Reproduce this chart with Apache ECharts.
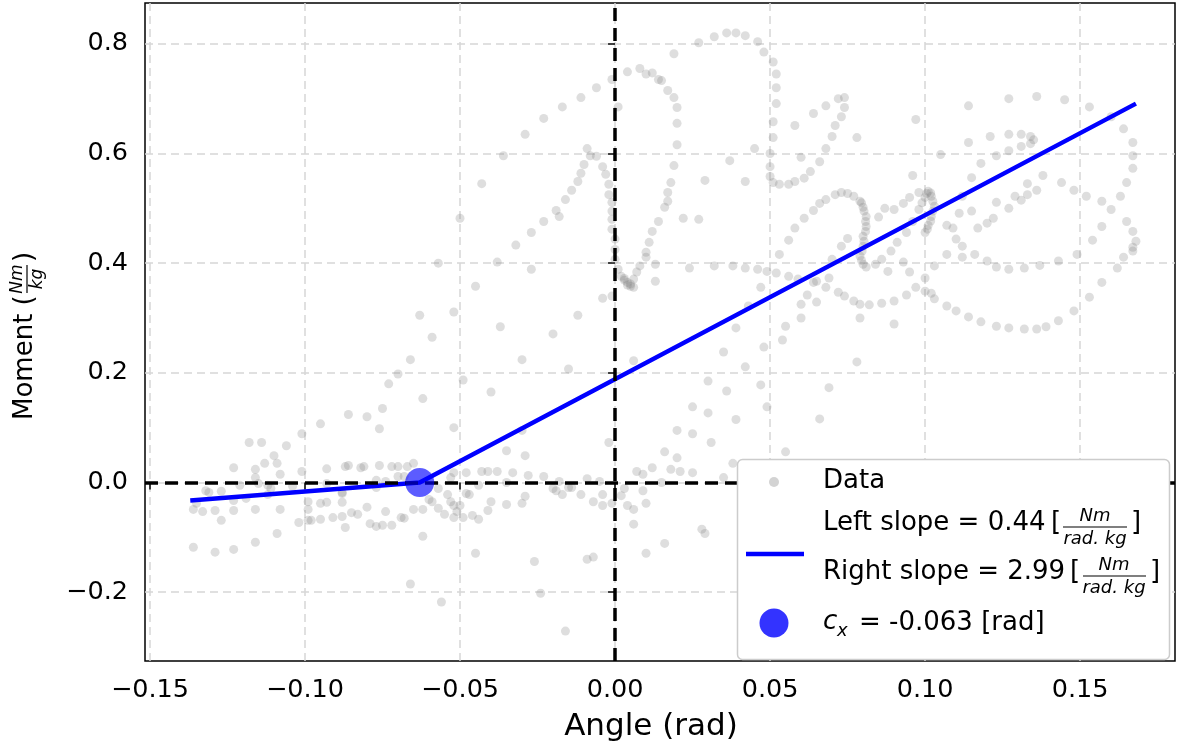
<!DOCTYPE html>
<html>
<head>
<meta charset="utf-8">
<script src="https://cdn.jsdelivr.net/npm/echarts@6/dist/echarts.min.js"></script>
<style>
  html, body { margin: 0; padding: 0; background: #fff; }
  #chart { width: 1188px; height: 747px; }
</style>
</head>
<body>
<div id="chart"></div>
<script>
// 数据点 [angle (rad), moment (Nm/kg)]
const topLoop = [
  [0.004,0.749],[0.008,0.755],[0.010,0.745],[0.012,0.747],[0.014,0.735],
  [-0.001,0.735],[-0.006,0.720],[-0.011,0.702],[-0.017,0.685],[-0.023,0.664],[-0.029,0.635],[-0.036,0.596],[-0.043,0.545],[-0.050,0.482],
  [0.001,0.685],
  [0.015,0.733],[0.017,0.715],[0.019,0.702],[0.020,0.684],[0.020,0.655],[0.020,0.616],[0.019,0.578],[0.018,0.547],[0.017,0.529],[0.017,0.513],[0.016,0.502],[0.014,0.476],[0.012,0.458],[0.011,0.438],
  [0.010,0.420],[0.010,0.411],[0.008,0.395],[0.007,0.384],[0.006,0.371],[0.006,0.356],[0.004,0.365],[0.003,0.369],[0.001,0.389],[0.000,0.407],[0.000,0.425],[0.002,0.376],[0.005,0.358],[0.013,0.398],[0.013,0.367],
  [0.004,0.360],[0.005,0.362],[0.003,0.372]
]
const innerCurve = [
  [-0.009,0.609],[-0.008,0.596],[-0.006,0.595],[-0.010,0.580],[-0.011,0.564],[-0.012,0.549],[-0.014,0.533],[-0.016,0.516],[-0.019,0.496],[-0.018,0.485],[-0.023,0.476],[-0.027,0.456],[-0.032,0.433],
  [-0.004,0.576],[-0.003,0.562],[-0.002,0.544],[-0.002,0.525],[-0.001,0.511],[-0.001,0.495],[-0.001,0.480],[-0.001,0.462],[0.000,0.444]
]
const upperArc = [
  [0.019,0.782],[0.027,0.802],[0.032,0.813],[0.036,0.820],[0.039,0.820],[0.042,0.815],[0.046,0.804],[0.048,0.785],
  [0.051,0.767],[0.052,0.745],[0.052,0.720],[0.052,0.691],[0.051,0.658],[0.051,0.629],[0.050,0.600],[0.050,0.576],[0.050,0.558],[0.051,0.547],
  [0.053,0.544],[0.056,0.544],[0.058,0.549],[0.061,0.555],[0.063,0.567],[0.066,0.585],[0.068,0.609],[0.070,0.631],[0.071,0.651],[0.073,0.667],[0.074,0.684],[0.074,0.702],[0.072,0.700],[0.068,0.687],[0.064,0.673],[0.058,0.651],[0.060,0.593],
  [0.078,0.629],[0.097,0.662],[0.045,0.609],[0.037,0.587],[0.029,0.551],[0.042,0.549],[0.022,0.482],[0.027,0.480]
]
const sCurve = [
  [0.066,0.509],[0.068,0.516],[0.071,0.525],[0.073,0.529],[0.075,0.527],[0.077,0.522],[0.079,0.513],[0.080,0.502],[0.081,0.485],[0.081,0.467],[0.080,0.449],[0.080,0.431],[0.079,0.413],[0.080,0.398],[0.081,0.393],[0.084,0.398],[0.086,0.407],[0.089,0.422],[0.091,0.438],[0.094,0.456],[0.096,0.476],[0.098,0.498],[0.100,0.520],[0.101,0.531],[0.102,0.522],[0.103,0.504],[0.102,0.485],[0.101,0.469],[0.100,0.456],
  [0.0795,0.510],[0.0803,0.495],[0.0808,0.476],[0.0808,0.458],[0.0803,0.440],[0.0797,0.422],[0.0795,0.405],
  [0.099,0.510],[0.1005,0.527],[0.1018,0.528],[0.1025,0.513],[0.1025,0.495],[0.1018,0.477],[0.1007,0.462],
  [0.064,0.496],[0.061,0.482],[0.058,0.464],[0.056,0.442],[0.075,0.445],[0.073,0.431],[0.085,0.484],[0.087,0.500],[0.090,0.498],[0.093,0.509],[0.095,0.520],[0.098,0.529],[0.096,0.560]
]
const rightLoops = [
  [0.114,0.687],[0.127,0.700],[0.136,0.704],[0.145,0.698],[0.153,0.685],[0.160,0.667],[0.164,0.645],[0.167,0.620],[0.167,0.596],[0.167,0.573],[0.165,0.547],[0.163,0.522],[0.160,0.498],[0.157,0.467],[0.154,0.442],
  [0.165,0.476],[0.167,0.458],[0.168,0.440],[0.167,0.429],
  [0.114,0.620],[0.121,0.631],[0.127,0.635],[0.131,0.635],[0.134,0.631],[0.135,0.625],[0.134,0.618],[0.131,0.613],[0.127,0.605],[0.123,0.596],[0.118,0.582],[0.115,0.556],[0.112,0.522],
  [0.105,0.598],[0.138,0.560],[0.144,0.547],[0.148,0.533],[0.152,0.522],[0.157,0.513],
  [0.133,0.545],[0.136,0.533],[0.133,0.525],[0.131,0.515],[0.129,0.522],[0.127,0.500],[0.123,0.511],[0.122,0.482],[0.120,0.473],[0.117,0.464],[0.115,0.495],[0.111,0.491],[0.109,0.464],[0.107,0.469],[0.110,0.444],[0.112,0.431]
]
const midBand = [
  [0.024,0.391],[0.032,0.395],[0.038,0.395],[0.042,0.391],[0.046,0.389],[0.049,0.385],[0.052,0.382],[0.056,0.376],[0.059,0.371],[0.064,0.365],[0.068,0.356],[0.072,0.347],[0.074,0.340],[0.077,0.331],[0.079,0.325],[0.082,0.324],[0.086,0.327],[0.090,0.331],[0.094,0.342],[0.097,0.356],
  [0.053,0.416],[0.070,0.407],[0.069,0.373],[0.065,0.367],[0.047,0.356],[0.062,0.342],[0.065,0.329],[0.060,0.325],
  [0.093,0.402],[0.095,0.384],[0.088,0.385],
  [0.107,0.416],[0.112,0.411],[0.116,0.416],[0.120,0.404],[0.123,0.393],[0.127,0.389],[0.132,0.391],[0.137,0.396],[0.143,0.404],[0.149,0.416],
  [0.103,0.395],[0.100,0.373],[0.100,0.349],[0.102,0.345],[0.103,0.335],[0.107,0.322],[0.110,0.313],[0.114,0.302],[0.118,0.293],[0.123,0.285],[0.127,0.282],[0.132,0.280],[0.136,0.280],[0.139,0.284],[0.143,0.295],[0.148,0.313],[0.153,0.338],[0.157,0.365],[0.162,0.391],[0.164,0.411],[0.167,0.422]
]
const rightScatter = [
  [0.060,0.300],[0.055,0.285],[0.054,0.260],[0.048,0.247],[0.039,0.282],[0.043,0.322],[0.035,0.238],[0.042,0.211],[0.030,0.185],[0.036,0.167],[0.047,0.178],[0.049,0.138],[0.025,0.138],[0.030,0.127],[0.039,0.115],[0.020,0.095],[0.025,0.089],[0.031,0.073],[0.016,0.056],[0.020,0.045],[0.018,0.024],[0.021,0.020],[0.025,0.018],[0.035,0.009],[0.038,0.035],[0.055,0.056],
  [0.079,0.300],[0.090,0.289],[0.078,0.220],[0.069,0.173],[0.066,0.116]
]
const leftCloud = [
  [-0.070,0.198],[-0.073,0.180],[-0.075,0.135],[-0.076,0.098],[-0.080,0.120],[-0.086,0.124],[-0.095,0.107],[-0.101,0.089],[-0.106,0.067],[-0.110,0.049],[-0.114,0.073],[-0.118,0.073],[-0.113,0.035],[-0.109,0.035],[-0.116,0.024],[-0.123,0.027],[-0.108,0.015],[-0.116,0.009],[-0.121,-0.005],[-0.101,0.020],[-0.093,0.025],[-0.087,0.029],[-0.086,0.031],[-0.082,0.027],[-0.081,0.029],[-0.076,0.031],[-0.072,0.029],[-0.070,0.029],[-0.077,0.004],[-0.074,0.002],[-0.070,0.011],[-0.132,-0.015],[-0.127,-0.016],[-0.104,-0.007],[-0.088,-0.020],[-0.111,-0.011],[-0.115,-0.002]
]
const centerCloud = [
  [-0.057,0.400],[-0.038,0.402],[-0.027,0.389],[-0.045,0.358],[-0.063,0.305],[-0.052,0.311],[-0.037,0.284],[-0.059,0.265],[-0.066,0.224],[-0.030,0.224],[-0.020,0.271],[-0.012,0.305],[-0.004,0.336],[-0.001,0.340],[0.006,0.222],[-0.049,0.187],[-0.062,0.153],[-0.040,0.165],[-0.015,0.207],[-0.052,0.100],[-0.035,0.058],[-0.029,0.049],[-0.030,0.095],[-0.002,0.073],
  [-0.048,0.018],[-0.043,0.020],[-0.041,0.020],[-0.038,0.020],[-0.033,0.018],[-0.028,0.013],[-0.023,0.011],[-0.018,0.002],[-0.009,0.007],[-0.005,0.002],[0.007,0.020],[0.009,0.015],[0.012,0.027],[-0.044,-0.005],[-0.048,-0.020],[-0.054,-0.022],[-0.065,0.035],[-0.067,0.029],[-0.068,0.011],[-0.057,-0.011],[-0.053,0.009],[-0.052,0.018],[-0.019,-0.015],[-0.014,-0.009],[-0.004,-0.022],[0.009,-0.015]
]
const lowerBand = [
  [-0.131,-0.018],[-0.135,-0.038],[-0.136,-0.049],[-0.133,-0.053],[-0.129,-0.051],[-0.127,-0.069],[-0.123,-0.051],[-0.123,-0.033],[-0.119,-0.029],[-0.116,-0.049],[-0.112,-0.022],[-0.108,-0.049],[-0.109,-0.093],[-0.116,-0.109],[-0.123,-0.122],[-0.129,-0.127],[-0.136,-0.118],
  [-0.102,-0.073],[-0.099,-0.069],[-0.098,-0.069],[-0.095,-0.067],[-0.095,-0.038],[-0.093,-0.036],[-0.099,-0.035],[-0.099,-0.049],[-0.091,-0.064],[-0.088,-0.062],[-0.088,-0.036],[-0.087,-0.082],[-0.085,-0.055],[-0.083,-0.058],[-0.080,-0.045],[-0.079,-0.075],[-0.077,-0.080],[-0.075,-0.078],[-0.074,-0.053],[-0.072,-0.078],[-0.077,-0.009],[-0.088,-0.018],[-0.112,-0.005],[-0.069,-0.064],[-0.093,-0.002],
  [-0.068,-0.065],[-0.065,-0.049],[-0.062,-0.049],[-0.062,-0.098],[-0.066,-0.185],[-0.056,-0.218],[-0.060,-0.031],[-0.059,-0.035],[-0.057,-0.047],[-0.055,-0.058],[-0.053,-0.035],[-0.052,-0.042],[-0.052,-0.064],[-0.051,-0.053],[-0.050,-0.042],[-0.049,-0.064],[-0.047,-0.022],[-0.046,-0.060],[-0.044,-0.067],[-0.041,-0.051],[-0.040,-0.035],[-0.035,-0.040],[-0.030,-0.038],[-0.029,-0.025],[-0.020,-0.011],[-0.017,-0.022],[-0.015,-0.009],[-0.011,-0.022],[-0.007,-0.035],[-0.004,-0.042],[-0.001,-0.038],[0.002,-0.024],[0.003,-0.011],[0.004,-0.042],[0.006,-0.049],[0.010,-0.038],[0.015,0.000],[0.006,-0.076],[0.016,-0.111],[0.010,-0.129],[0.028,-0.085],[0.029,-0.093],[-0.045,-0.129],[-0.026,-0.144],[-0.009,-0.140],[-0.007,-0.136],[-0.024,-0.202],[-0.016,-0.271],[-0.035,0.000]
]

// 分段拟合
const fitAngle = [-0.137, -0.063, 0.168]
const fitMoment = [-0.0326, 0, 0.691]
const cxAngle = -0.063
const cxMoment = 0

const xTicks = [-0.15, -0.10, -0.05, 0, 0.05, 0.10, 0.15]
const yTicks = [-0.2, 0, 0.2, 0.4, 0.6, 0.8]

const allData = [].concat(topLoop, innerCurve, upperArc, sCurve, rightLoops, midBand, rightScatter, leftCloud, centerCloud, lowerBand)
const fitLine = fitAngle.map((a, i) => [a, fitMoment[i]])

const FONT = 'DejaVu Sans'
const fmt = (v, d) => (v < -1e-9 ? '\u2212' + Math.abs(v).toFixed(d) : Math.abs(v).toFixed(d))

const myChart = echarts.init(document.getElementById('chart'))

const TXT = '26px "DejaVu Sans"'
const SMALL = 'italic 18px "DejaVu Sans"'
const legendGraphic = [
  // 图例框
  { type: 'rect', shape: { x: 737.5, y: 459.5, width: 432, height: 200, r: 5 },
    style: { fill: '#ffffff', stroke: '#cccccc', lineWidth: 1.5 }, z: 100 },
  { type: 'circle', shape: { cx: 774, cy: 482, r: 5 }, style: { fill: 'rgba(128,128,128,0.35)' }, z: 101 },
  { type: 'text', x: 823, y: 481, style: { text: 'Data', font: TXT, fill: '#000', verticalAlign: 'middle' }, z: 101 },
  { type: 'line', shape: { x1: 746, y1: 554, x2: 804, y2: 554 }, style: { stroke: '#0000ff', lineWidth: 4.5 }, z: 101 },
  // Left slope
  { type: 'text', x: 823, y: 523, style: { text: 'Left slope = 0.44', font: TXT, fill: '#000', verticalAlign: 'middle' }, z: 101 },
  { type: 'text', x: 1051, y: 523, style: { text: '[', font: TXT, fill: '#000', verticalAlign: 'middle' }, z: 101 },
  { type: 'text', x: 1095, y: 516, style: { text: 'Nm', font: SMALL, fill: '#000', align: 'center', verticalAlign: 'middle' }, z: 101 },
  { type: 'line', shape: { x1: 1063, y1: 527, x2: 1127, y2: 527 }, style: { stroke: '#000', lineWidth: 1.2 }, z: 101 },
  { type: 'text', x: 1095, y: 539, style: { text: 'rad. kg', font: SMALL, fill: '#000', align: 'center', verticalAlign: 'middle' }, z: 101 },
  { type: 'text', x: 1131, y: 523, style: { text: ']', font: TXT, fill: '#000', verticalAlign: 'middle' }, z: 101 },
  // Right slope
  { type: 'text', x: 823, y: 572, style: { text: 'Right slope = 2.99', font: TXT, fill: '#000', verticalAlign: 'middle' }, z: 101 },
  { type: 'text', x: 1070, y: 572, style: { text: '[', font: TXT, fill: '#000', verticalAlign: 'middle' }, z: 101 },
  { type: 'text', x: 1114, y: 565, style: { text: 'Nm', font: SMALL, fill: '#000', align: 'center', verticalAlign: 'middle' }, z: 101 },
  { type: 'line', shape: { x1: 1083, y1: 576, x2: 1146, y2: 576 }, style: { stroke: '#000', lineWidth: 1.2 }, z: 101 },
  { type: 'text', x: 1114, y: 588, style: { text: 'rad. kg', font: SMALL, fill: '#000', align: 'center', verticalAlign: 'middle' }, z: 101 },
  { type: 'text', x: 1150, y: 572, style: { text: ']', font: TXT, fill: '#000', verticalAlign: 'middle' }, z: 101 },
  // c_x
  { type: 'circle', shape: { cx: 774, cy: 623, r: 14.5 }, style: { fill: 'rgba(0,0,255,0.8)' }, z: 101 },
  { type: 'text', x: 823, y: 622, style: { text: 'c', font: 'italic 26px "DejaVu Sans"', fill: '#000', verticalAlign: 'middle' }, z: 101 },
  { type: 'text', x: 837, y: 631, style: { text: 'x', font: SMALL, fill: '#000', verticalAlign: 'middle' }, z: 101 },
  { type: 'text', x: 859, y: 623, style: { text: '= -0.063 [rad]', font: TXT, fill: '#000', verticalAlign: 'middle' }, z: 101 }
]

// 纵轴标题 (旋转)
const yNameGraphic = {
  type: 'group', x: 34, y: 420, rotation: Math.PI / 2, z: 101,
  children: [
    { type: 'text', x: 0, y: -9, style: { text: 'Moment (', font: TXT, fill: '#000', verticalAlign: 'middle' } },
    { type: 'text', x: 141, y: -16, style: { text: 'Nm', font: 'italic 17px "DejaVu Sans"', fill: '#000', align: 'center', verticalAlign: 'middle' } },
    { type: 'line', shape: { x1: 127, y1: -7, x2: 155, y2: -7 }, style: { stroke: '#000', lineWidth: 1.2 } },
    { type: 'text', x: 141, y: 4, style: { text: 'kg', font: 'italic 17px "DejaVu Sans"', fill: '#000', align: 'center', verticalAlign: 'middle' } },
    { type: 'text', x: 158, y: -9, style: { text: ')', font: TXT, fill: '#000', verticalAlign: 'middle' } }
  ]
}

const options = {
  backgroundColor: '#fff',
  animation: false,
  grid: {
    left: 145, top: 3, right: 13, bottom: 84,
    show: true, borderColor: '#000', borderWidth: 1.5, backgroundColor: 'transparent'
  },
  xAxis: {
    type: 'value',
    min: -0.1516, max: 0.1806,
    name: 'Angle (rad)', nameLocation: 'middle', nameGap: 50,
    nameTextStyle: { fontFamily: FONT, fontSize: 31, color: '#000', padding: [0, 18, 0, 0] },
    axisLine: { show: false },
    axisTick: { show: true, inside: false, length: 7, customValues: xTicks, lineStyle: { color: '#000', width: 1.5 } },
    axisLabel: { customValues: xTicks, margin: 16, fontFamily: FONT, fontSize: 25.5, color: '#000', formatter: v => fmt(v, 2) },
    splitLine: { show: true, lineStyle: { color: '#d6d6d6', width: 1.5, type: [8, 5] } }
  },
  yAxis: {
    type: 'value',
    min: -0.3255, max: 0.8745,
    axisLine: { show: false },
    axisTick: { show: true, inside: false, length: 7, customValues: yTicks, lineStyle: { color: '#000', width: 1.5 } },
    axisLabel: { customValues: yTicks, margin: 17, fontFamily: FONT, fontSize: 25.5, color: '#000', formatter: v => fmt(v, 1) },
    splitLine: { show: true, lineStyle: { color: '#d6d6d6', width: 1.5, type: [8, 5] } }
  },
  graphic: legendGraphic.concat([yNameGraphic]),
  series: [
    {
      name: 'Data',
      type: 'scatter',
      data: allData,
      symbol: 'circle',
      symbolSize: 9,
      itemStyle: { color: 'rgba(128,128,128,0.33)' },
      silent: true,
      z: 2
    },
    {
      name: 'zero',
      type: 'line',
      data: [],
      z: 3,
      markLine: {
        silent: true,
        symbol: 'none',
        label: { show: false },
        lineStyle: { color: '#000', width: 3.5, type: [13, 7] },
        data: [{ xAxis: 0 }, { yAxis: 0 }]
      }
    },
    {
      name: 'fit',
      type: 'line',
      data: fitLine,
      symbol: 'none',
      lineStyle: { color: '#0000ff', width: 4.5 },
      z: 4
    },
    {
      name: 'cx',
      type: 'scatter',
      data: [[cxAngle, cxMoment]],
      symbolSize: 29,
      itemStyle: { color: 'rgba(0,0,255,0.8)' },
      z: 5
    }
  ]
}

myChart.setOption(options)
</script>
</body>
</html>
